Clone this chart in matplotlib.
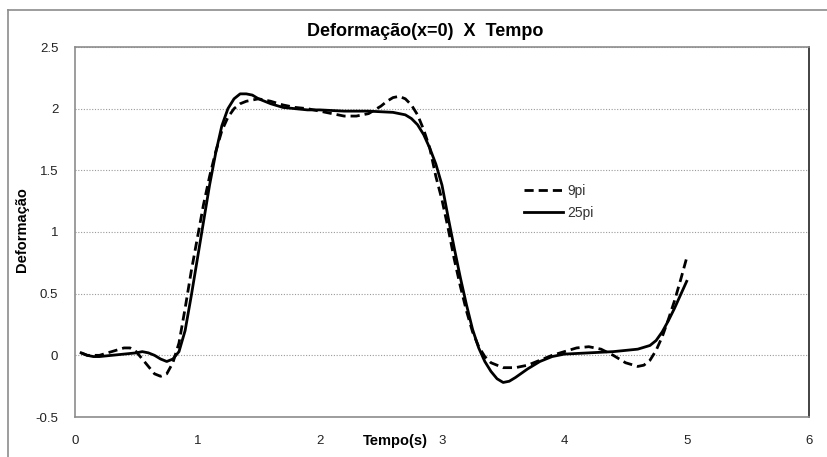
import matplotlib

matplotlib.use("Agg")
import matplotlib.pyplot as plt
from matplotlib.lines import Line2D

plt.rcParams["font.family"] = ["Liberation Sans", "DejaVu Sans"]

# 9pi (dashed)
t_9pi = [0.05, 0.1, 0.2, 0.3, 0.4, 0.45, 0.5, 0.55, 0.6, 0.65, 0.7, 0.75, 0.8,
         0.85, 0.9, 0.95, 1.0, 1.05, 1.1, 1.15, 1.2, 1.25, 1.3, 1.35, 1.4, 1.45,
         1.5, 1.6, 1.7, 1.8, 1.9, 2.0, 2.1, 2.2, 2.3, 2.4, 2.5, 2.55, 2.6, 2.65,
         2.7, 2.75, 2.8, 2.85, 2.9, 2.95, 3.0, 3.05, 3.1, 3.15, 3.2, 3.25, 3.3,
         3.35, 3.4, 3.5, 3.6, 3.7, 3.8, 3.9, 4.0, 4.1, 4.2, 4.3, 4.4, 4.5, 4.6,
         4.65, 4.7, 4.75, 4.8, 4.85, 4.9, 4.95, 5.0]
d_9pi = [0.02, 0.0, 0.0, 0.03, 0.06, 0.06, 0.03, -0.03, -0.09, -0.15, -0.17,
         -0.15, -0.06, 0.1, 0.38, 0.68, 0.95, 1.22, 1.45, 1.65, 1.82, 1.93, 2.0,
         2.04, 2.06, 2.07, 2.08, 2.06, 2.03, 2.01, 2.0, 1.98, 1.96, 1.94, 1.94,
         1.96, 2.02, 2.06, 2.09, 2.1, 2.08, 2.03, 1.95, 1.83, 1.68, 1.45, 1.26,
         1.03, 0.78, 0.56, 0.36, 0.19, 0.07, -0.01, -0.06, -0.1, -0.1, -0.08,
         -0.04, 0.0, 0.03, 0.06, 0.07, 0.05, 0.0, -0.06, -0.09, -0.08, -0.04,
         0.04, 0.15, 0.29, 0.44, 0.61, 0.79]

# 25pi (solid)
t_25pi = [0.05, 0.1, 0.15, 0.2, 0.3, 0.4, 0.5, 0.55, 0.6, 0.65, 0.7, 0.75, 0.8,
          0.85, 0.9, 0.95, 1.0, 1.05, 1.1, 1.15, 1.2, 1.25, 1.3, 1.35, 1.4,
          1.45, 1.5, 1.6, 1.7, 1.8, 1.9, 2.0, 2.2, 2.4, 2.6, 2.65, 2.7, 2.75,
          2.8, 2.85, 2.9, 2.95, 3.0, 3.05, 3.1, 3.15, 3.2, 3.25, 3.3, 3.35, 3.4,
          3.45, 3.5, 3.55, 3.6, 3.7, 3.8, 3.9, 4.0, 4.2, 4.4, 4.5, 4.6, 4.7,
          4.75, 4.8, 4.85, 4.9, 4.95, 5.0]
d_25pi = [0.02, 0.0, -0.01, -0.01, 0.0, 0.01, 0.02, 0.03, 0.02, 0.0, -0.03,
          -0.05, -0.03, 0.03, 0.2, 0.48, 0.78, 1.08, 1.38, 1.64, 1.86, 2.0, 2.08,
          2.12, 2.12, 2.11, 2.08, 2.04, 2.01, 2.0, 1.99, 1.99, 1.98, 1.98, 1.97,
          1.96, 1.95, 1.92, 1.87, 1.79, 1.68, 1.55, 1.38, 1.12, 0.87, 0.63, 0.41,
          0.21, 0.06, -0.05, -0.13, -0.19, -0.22, -0.21, -0.18, -0.11, -0.05,
          -0.01, 0.01, 0.02, 0.03, 0.04, 0.05, 0.08, 0.12, 0.19, 0.28, 0.38,
          0.49, 0.6]

x_ticks = [0, 1, 2, 3, 4, 5, 6]
y_ticks = [-0.5, 0, 0.5, 1, 1.5, 2, 2.5]

W, H = 828, 457
fig = plt.figure(figsize=(W / 100, H / 100), dpi=100)
ax = fig.add_axes([75 / W, 1 - 417 / H, (809 - 75) / W, (417 - 47) / H])

# outer chart frame (cut off at right and bottom)
fig.add_artist(Line2D([8 / W, 1], [1 - 10 / H, 1 - 10 / H], color="#8c8c8c", lw=1.2))
fig.add_artist(Line2D([8 / W, 8 / W], [0, 1 - 10 / H], color="#8c8c8c", lw=1.2))

ax.plot(t_9pi, d_9pi, color="black", lw=2, ls=(0, (3.3, 1.8)), label="9pi",
        solid_joinstyle="round")
ax.plot(t_25pi, d_25pi, color="black", lw=2, label="25pi",
        solid_joinstyle="round")

ax.set_xlim(0, 6)
ax.set_ylim(-0.5, 2.5)
ax.set_xticks(x_ticks)
ax.set_yticks(y_ticks)
ax.set_yticklabels(["-0.5", "0", "0.5", "1", "1.5", "2", "2.5"])
ax.tick_params(axis="both", length=0, labelsize=9.5, colors="#222222")
ax.tick_params(axis="x", pad=13)
ax.tick_params(axis="y", pad=12)
ax.yaxis.grid(True, color="#9a9a9a", ls=(0, (1, 1.5)), lw=0.8)
for side in ("top", "left", "bottom"):
    ax.spines[side].set_color("#8c8c8c")
    ax.spines[side].set_linewidth(1.2)
ax.spines["right"].set_color("#222222")
ax.spines["right"].set_linewidth(1.2)

fig.text(425 / W, 1 - 31 / H, "Deformação(x=0)  X  Tempo", ha="center",
         va="center", fontsize=13, fontweight="bold")
fig.text(395 / W, 1 - 441 / H, "Tempo(s)", ha="center", va="center",
         fontsize=10.5, fontweight="bold")
fig.text(22 / W, 1 - 230 / H, "Deformação", ha="center", va="center",
         fontsize=10.5, fontweight="bold", rotation=90)

ax.legend(loc="upper left", bbox_to_anchor=(512 / W, 1 - 171 / H),
          bbox_transform=fig.transFigure, frameon=False, fontsize=10,
          handlelength=2.8, handletextpad=0.3, labelspacing=0.6,
          labelcolor="#333333")

fig.savefig("out.png", dpi=100)
